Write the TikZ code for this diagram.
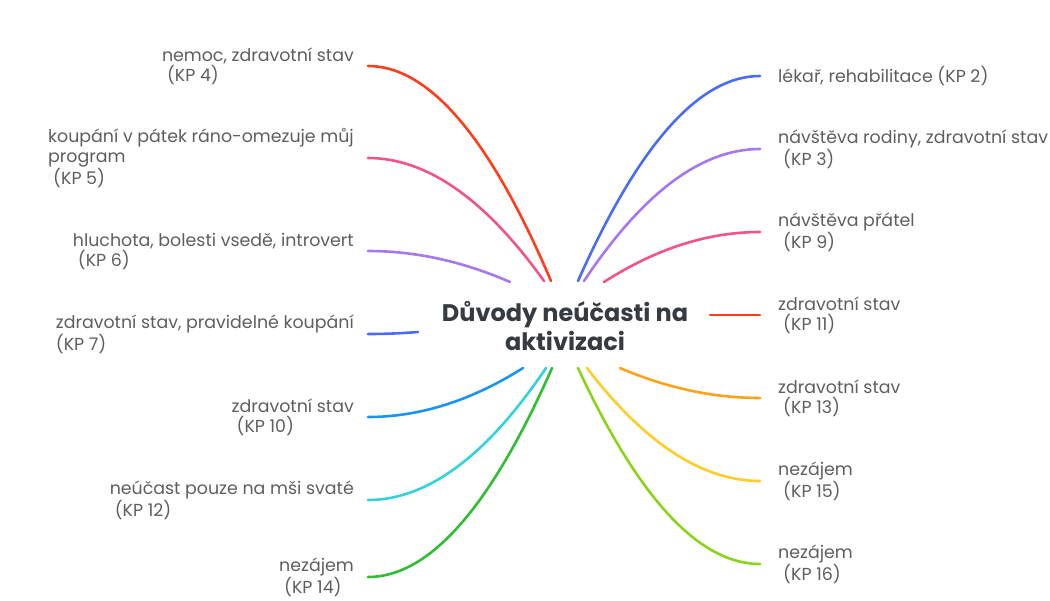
\documentclass[tikz,border=0pt]{standalone}
\usepackage{fontspec}
\setmainfont{Poppins}
\usepackage{xcolor}
\usepackage{tikz}
\usetikzlibrary{calc,
                positioning}

\definecolor{textgrey}{HTML}{5E5E5E}
\definecolor{topicgrey}{HTML}{353B41}
\definecolor{kpred}{HTML}{FF3D1A}
\definecolor{kppink}{HTML}{F2538A}
\definecolor{kppurple}{HTML}{A678EE}
\definecolor{kpblue}{HTML}{4A6CF5}
\definecolor{kpsky}{HTML}{1A93F5}
\definecolor{kpcyan}{HTML}{33D3DB}
\definecolor{kpgreen}{HTML}{2FBE34}
\definecolor{kporange}{HTML}{FFA21A}
\definecolor{kpyellow}{HTML}{FFCC2A}
\definecolor{kplime}{HTML}{8CD41A}

\tikzset{
  reason/.style={font=\fontsize{17.4}{20}\selectfont, text=textgrey,
                 align=left, inner ysep=0pt},
  reasonL/.style={reason, anchor=east, inner xsep=14pt},
  reasonR/.style={reason, anchor=west, inner xsep=18pt},
  topic/.style={font=\fontsize{24}{29}\selectfont\bfseries,
                text=topicgrey, align=center},
  branch/.style={line width=2.6pt, line cap=round}
}

\begin{document}
\begin{tikzpicture}[x=1pt,y=-1pt]
\useasboundingbox (0,0) rectangle (1050,600);

\node[topic] (topic) at (565,326) {Důvody neúčasti na\\aktivizaci};

% reasons on the left
\node[reasonL] (kp4) at (368,66) {nemoc, zdravotní stav\\\hspace*{5pt}(KP 4)};
\node[reasonL] (kp5) at (368,158) {koupání v pátek ráno-omezuje můj\\program\\\hspace*{5pt}(KP 5)};
\node[reasonL] (kp6) at (368,251) {hluchota, bolesti vsedě, introvert\\\hspace*{5pt}(KP 6)};
\node[reasonL] (kp7) at (368,334) {zdravotní stav, pravidelné koupání\\(KP 7)};
\node[reasonL] (kp10) at (368,417) {zdravotní stav\\\hspace*{5pt}(KP 10)};
\node[reasonL] (kp12) at (368,500) {neúčast pouze na mši svaté\\\hspace*{5pt}(KP 12)};
\node[reasonL] (kp14) at (368,577) {nezájem\\\hspace*{5pt}(KP 14)};

% reasons on the right
\node[reasonR] (kp2) at (760,76) {lékař, rehabilitace (KP 2)};
\node[reasonR] (kp3) at (760,149) {návštěva rodiny, zdravotní stav\\\hspace*{5pt}(KP 3)};
\node[reasonR] (kp9) at (760,232) {návštěva přátel\\\hspace*{5pt}(KP 9)};
\node[reasonR] (kp11) at (760,315) {zdravotní stav\\\hspace*{5pt}(KP 11)};
\node[reasonR] (kp13) at (760,398) {zdravotní stav\\\hspace*{5pt}(KP 13)};
\node[reasonR] (kp15) at (760,481) {nezájem\\\hspace*{5pt}(KP 15)};
\node[reasonR] (kp16) at (760,564) {nezájem\\\hspace*{5pt}(KP 16)};

% branch ends round the topic
\coordinate (c4) at (551,281);
\coordinate (c5) at (544,281);
\coordinate (c6) at (510,282);
\coordinate (c7) at (418,332);
\coordinate (c10) at (523,368);
\coordinate (c12) at (546,368);
\coordinate (c14) at (552,368);
\coordinate (c2) at (578,281);
\coordinate (c3) at (584,281);
\coordinate (c9) at (604,282);
\coordinate (c11) at (710,315);
\coordinate (c13) at (620,368);
\coordinate (c15) at (587,368);
\coordinate (c16) at (578,368);

\foreach \from/\to/\col in {kp4.east/c4/kpred, kp5.east/c5/kppink,
    kp6.east/c6/kppurple, kp7.east/c7/kpblue, kp10.east/c10/kpsky,
    kp12.east/c12/kpcyan, kp14.east/c14/kpgreen,
    kp2.west/c2/kpblue, kp3.west/c3/kppurple, kp9.west/c9/kppink,
    kp11.west/c11/kpred, kp13.west/c13/kporange,
    kp15.west/c15/kpyellow, kp16.west/c16/kplime}
  \draw[branch, \col] let \p1=(\from), \p2=(\to) in
    (\p1) .. controls ({\x1+(\x2-\x1)/3},\y1)
               and ({\x2-(\x2-\x1)/3},{\y2+2*(\y1-\y2)/3}) .. (\p2);
\end{tikzpicture}
\end{document}
